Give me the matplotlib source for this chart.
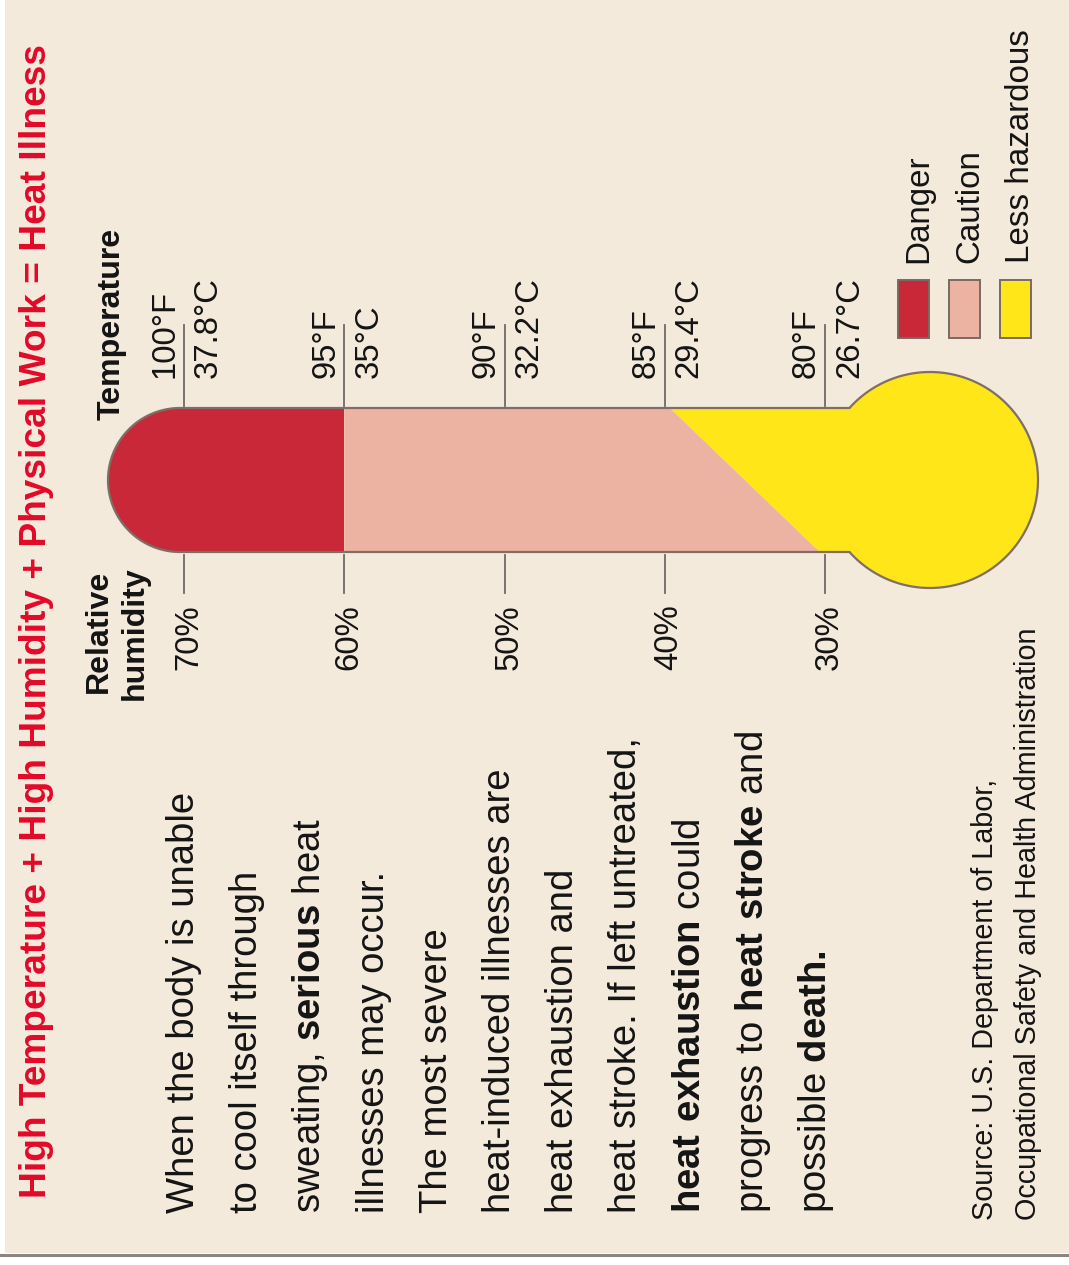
import matplotlib
matplotlib.use('Agg')
import matplotlib.pyplot as plt
import numpy as np
from matplotlib import font_manager
from matplotlib.patches import Polygon, Rectangle

# scale values along the thermometer
temps_f = [100, 95, 90, 85, 80]
temps_c = [37.8, 35, 32.2, 29.4, 26.7]
humidity = [70, 60, 50, 40, 30]

# zone limits: (temperature at top edge, humidity at bottom edge)
danger_limit = (95, 60)
caution_limit = (85, 30)

zones = ['Danger', 'Caution', 'Less hazardous']
zone_colors = ['#C82837', '#ECB2A2', '#FFE619']

title = 'High Temperature + High Humidity + Physical Work = Heat Illness'
body = [
    'When the body is unable',
    'to cool itself through',
    r'sweating, $\mathbf{serious}$ heat',
    'illnesses may occur.',
    'The most severe',
    'heat-induced illnesses are',
    'heat exhaustion and',
    'heat stroke. If left untreated,',
    r'$\mathbf{heat\ exhaustion}$ could',
    r'progress to $\mathbf{heat\ stroke}$ and',
    r'possible $\mathbf{death.}$',
]
source = ['Source: U.S. Department of Labor,',
          'Occupational Safety and Health Administration']

BG = '#F4EADC'
RED = '#E10A28'
INK = '#141414'


def have_font(name):
    try:
        font_manager.findfont(font_manager.FontProperties(family=name),
                              fallback_to_default=False)
        return True
    except ValueError:
        return False


SANS = 'Liberation Sans'
NARROW = 'Liberation Sans Narrow' if have_font('Liberation Sans Narrow') else SANS

plt.rcParams['font.family'] = [SANS, 'DejaVu Sans']
plt.rcParams['mathtext.fontset'] = 'custom'
plt.rcParams['mathtext.rm'] = SANS
plt.rcParams['mathtext.bf'] = SANS + ':bold'

W, H = 1069, 1265
fig = plt.figure(figsize=(W / 100, H / 100), dpi=100, facecolor='white')
ax = fig.add_axes([0, 0, 1, 1])
ax.set_xlim(0, W)
ax.set_ylim(H, 0)
ax.axis('off')
renderer = fig.canvas.get_renderer()

# panel background and bottom rule
ax.add_patch(Rectangle((5, 0), W - 5, 1253, facecolor=BG, edgecolor='none', zorder=0))
ax.plot([0, W], [1255, 1255], color='#8c8580', lw=2.2, zorder=1)


def x_temp(f):
    return 184 + (temps_f[0] - f) * 32.05


def x_hum(h):
    return 184 + (humidity[0] - h) * 16.025


def vtext(x, y, s, size, **kw):
    return ax.text(x, y, s, rotation=90, rotation_mode='anchor', ha='left',
                   va='baseline', fontsize=size, zorder=5, **kw)


def fit_size(s, length, **kw):
    t = vtext(0, 0, s, 20, **kw)
    h = t.get_window_extent(renderer).height
    t.remove()
    return 20 * length / h


# thermometer outline: rounded tube end + bulb
top, bot, cy = 408, 552, 480
r_tube = (bot - top) / 2
end_cx = 180
bulb_cx, bulb_r = 930, 108
a0 = np.arctan2(top - cy, -np.sqrt(bulb_r ** 2 - r_tube ** 2))
th_bulb = np.linspace(a0, -a0, 200)
th_end = np.linspace(np.pi / 2, 3 * np.pi / 2, 100)
outline = np.vstack([
    np.column_stack([bulb_cx + bulb_r * np.cos(th_bulb), cy + bulb_r * np.sin(th_bulb)]),
    np.column_stack([end_cx + r_tube * np.cos(th_end), cy + r_tube * np.sin(th_end)]),
])
shape = Polygon(outline, closed=True, facecolor='none', edgecolor='#7f6e66', lw=1.6, zorder=3)
ax.add_patch(shape)

# zone fills clipped to the thermometer
d_top, d_bot = x_temp(danger_limit[0]), x_hum(danger_limit[1])
c_top, c_bot = x_temp(caution_limit[0]), x_hum(caution_limit[1])
zone_polys = [
    [(90, top - 5), (d_top, top - 5), (d_bot, bot + 5), (90, bot + 5)],
    [(d_top, top - 5), (c_top, top - 5), (c_bot, bot + 5), (d_bot, bot + 5)],
    [(c_top, top - 5), (1050, top - 120), (1050, bot + 120), (c_bot, bot + 5)],
]
for poly, col in zip(zone_polys, zone_colors):
    p = Polygon(poly, closed=True, facecolor=col, edgecolor='none', zorder=2)
    ax.add_patch(p)
    p.set_clip_path(shape)

# temperature scale above the tube
lab_size = fit_size('100°F', 88)
for f, c in zip(temps_f, temps_c):
    x = x_temp(f)
    ax.plot([x, x], [325, 406], color='#6e6a66', lw=1.3, zorder=4)
    vtext(x - 10, 378, f'{f}°F', lab_size, color=INK)
    vtext(x + 33, 378, f'{c:g}°C', lab_size, color=INK)

# humidity scale below the tube
for h in humidity:
    x = x_hum(h)
    ax.plot([x, x], [555, 593], color='#6e6a66', lw=1.3, zorder=4)
    vtext(x + 13, 670, f'{h}%', lab_size, color=INK)

head_size = fit_size('Temperature', 192, fontweight='bold')
vtext(120, 420, 'Temperature', head_size, color=INK, fontweight='bold')
rh_size = fit_size('Relative', 123, fontweight='bold')
vtext(107, 693, 'Relative', rh_size, color=INK, fontweight='bold')
vtext(143, 700, 'humidity', rh_size, color=INK, fontweight='bold')

# title
title_size = fit_size(title, 1151, fontweight='bold', family=NARROW)
vtext(46, 1198, title, title_size, color=RED, fontweight='bold', family=NARROW)

# explanatory paragraph
body_size = fit_size(body[0], 420)
for i, line in enumerate(body):
    vtext(194 + 63.2 * i, 1213, line, body_size, color=INK)

# legend
leg_size = fit_size(zones[2], 233)
for i, (name, col) in enumerate(zip(zones, zone_colors)):
    xc = 913 + 51 * i
    ax.add_patch(Rectangle((xc - 15.5, 280), 31, 58, facecolor=col,
                           edgecolor='#7a6a62', lw=1.4, zorder=4))
    vtext(xc + 14, 263, name, leg_size, color=INK)

# source note
src_size = fit_size(source[1], 592, family=NARROW)
vtext(993, 1220, source[0], src_size, color=INK, family=NARROW)
vtext(1036, 1220, source[1], src_size, color=INK, family=NARROW)

fig.savefig('out.png', dpi=100, facecolor=fig.get_facecolor())
